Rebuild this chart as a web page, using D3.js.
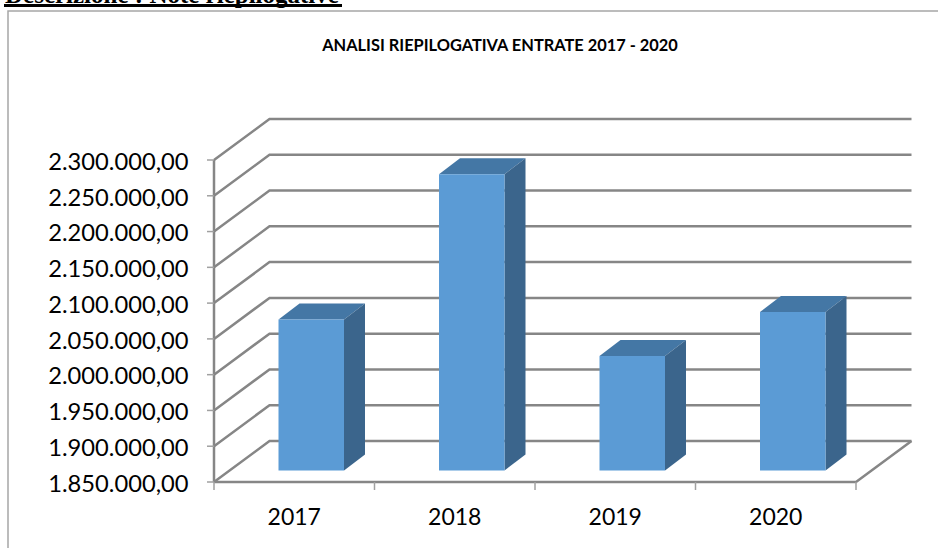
<!DOCTYPE html>
<html>
<head>
<meta charset="utf-8">
<script src="https://cdn.jsdelivr.net/npm/d3@7"></script>
<style>
  html, body { margin: 0; padding: 0; background: #fff; overflow: hidden; }
  text { font-family: Lato, "Open Sans", sans-serif; fill: #000; }
</style>
</head>
<body>
<svg id="chart" width="938" height="548"></svg>
<script>
const years = ["2017", "2018", "2019", "2020"];
const entrate = [2061000, 2264000, 2010000, 2071500];
const yTicks = [1850000, 1900000, 1950000, 2000000, 2050000, 2100000, 2150000, 2200000, 2250000, 2300000];
const heading = "Descrizione : Note riepilogative";
const chartTitle = "ANALISI RIEPILOGATIVA ENTRATE 2017 - 2020";

const svg = d3.select("#chart");

// plot front plane
const xScale = d3.scaleBand().domain(years).range([214, 856]);
const yScale = d3.scaleLinear().domain([1850000, 2300000]).range([482, 160]);

// 3d offsets: full floor depth, and where the bars stand on it
const depth = { x: 55.5, y: -41 };
const barPlane = { x: 17, y: -11.5 };
const barDepth = { x: 21, y: -16 };
const barWidth = 65.5;

const fmt = d3.formatLocale({ decimal: ",", thousands: ".", grouping: [3], currency: ["", ""] }).format(",.2f");

const gridColor = "#868686";
const frontColor = "#5b9bd5", topColor = "#4477a5", sideColor = "#3b658c";

svg.append("text").attr("x", 5).attr("y", 3)
  .attr("font-size", 25).attr("font-weight", 700)
  .style("font-family", "Liberation Serif").text(heading);
svg.append("rect").attr("x", 4).attr("y", 4).attr("width", 338).attr("height", 3).attr("fill", "#000");

// chart frame
svg.append("path").attr("d", "M8,548V11H938").attr("fill", "none").attr("stroke", "#a6a6a6").attr("stroke-width", 1.5);

svg.append("text").attr("x", 500).attr("y", 51).attr("text-anchor", "middle")
  .attr("font-size", 16.4).attr("font-weight", 700).text(chartTitle);

// walls
const grid = svg.append("g").attr("fill", "none").attr("stroke", gridColor).attr("stroke-width", 2.5);
const xL = xScale.range()[0], xR = xScale.range()[1];

grid.selectAll(".wall").data(yTicks).join("path").attr("class", "wall")
  .attr("d", d => `M${xL},${yScale(d)}L${xL + depth.x},${yScale(d) + depth.y}H${xR + depth.x}`);

grid.append("path").attr("d", `M${xL},${yScale(yTicks[0])}V${yScale(yTicks[yTicks.length - 1])}`);
grid.append("path").attr("d", `M${xL},${yScale(yTicks[0])}H${xR}L${xR + depth.x},${yScale(yTicks[0]) + depth.y}`);

// tick marks
const ticks = svg.append("g").attr("stroke", "#a0a0a0").attr("stroke-width", 1.5);
ticks.selectAll(".ty").data(yTicks).join("line").attr("class", "ty")
  .attr("x1", xL - 7).attr("x2", xL).attr("y1", d => yScale(d)).attr("y2", d => yScale(d));
ticks.selectAll(".tx").data(years.concat("end")).join("line").attr("class", "tx")
  .attr("x1", (d, i) => i < years.length ? xScale(d) : xR)
  .attr("x2", (d, i) => i < years.length ? xScale(d) : xR)
  .attr("y1", yScale(yTicks[0])).attr("y2", yScale(yTicks[0]) + 8);

// bars
const bars = svg.selectAll(".bar").data(years).join("g").attr("class", "bar");
const bx = d => xScale(d) + xScale.bandwidth() / 2 - barWidth / 2 + barPlane.x;
const by = (d, i) => yScale(entrate[i]) + barPlane.y;
const by0 = yScale(yTicks[0]) + barPlane.y;

bars.append("path").attr("fill", topColor)
  .attr("d", (d, i) => `M${bx(d)},${by(d, i)}l${barDepth.x},${barDepth.y}h${barWidth}l${-barDepth.x},${-barDepth.y}Z`);
bars.append("path").attr("fill", sideColor)
  .attr("d", (d, i) => `M${bx(d) + barWidth},${by(d, i)}l${barDepth.x},${barDepth.y}V${by0 + barDepth.y}l${-barDepth.x},${-barDepth.y}Z`);
bars.append("rect").attr("fill", frontColor)
  .attr("x", bx).attr("y", by).attr("width", barWidth)
  .attr("height", (d, i) => by0 - by(d, i));

// labels
svg.selectAll(".ylab").data(yTicks).join("text").attr("class", "ylab")
  .attr("x", 188.5).attr("y", d => yScale(d) + 1.5).attr("dy", "0.35em").attr("text-anchor", "end")
  .attr("font-size", 23.7).text(d => fmt(d));

svg.selectAll(".xlab").data(years).join("text").attr("class", "xlab")
  .attr("x", d => xScale(d) + xScale.bandwidth() / 2).attr("y", 525).attr("text-anchor", "middle")
  .attr("font-size", 23).text(d => d);
</script>
</body>
</html>
